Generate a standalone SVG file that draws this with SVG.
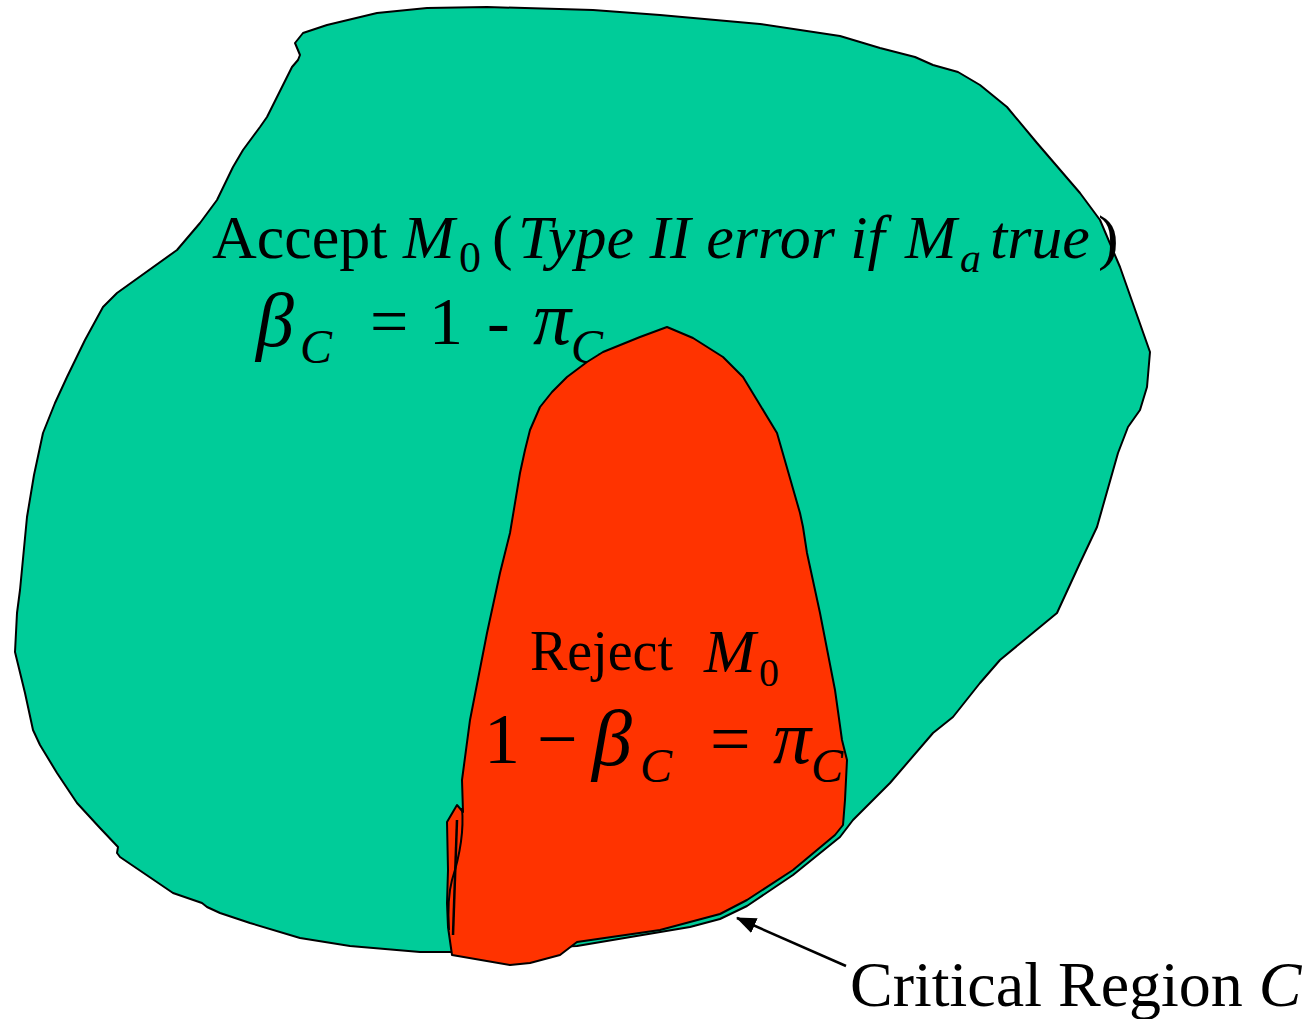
<svg xmlns="http://www.w3.org/2000/svg" width="1310" height="1019" viewBox="0 0 1310 1019">
<style>
.t{font-family:"Liberation Serif","Times New Roman",serif;fill:#000}
.i{font-style:italic}
.shape{stroke:#000;stroke-width:2;stroke-linejoin:round}
</style>
<defs>
<marker id="ah" viewBox="0 0 20 16" refX="19" refY="8" markerWidth="20" markerHeight="16" markerUnits="userSpaceOnUse" orient="auto">
<path d="M0,0 L20,8 L0,16 Z" fill="#000"/>
</marker>
</defs>
<rect width="1310" height="1019" fill="#fff"/>
<g id="accept-region">
<path class="shape" fill="#00CC99" d="M295,43 L303,33 L327,25 L377,13 L427,8 L487,7 L593,10 L660,15 L760,24 L840,36 L880,48 L915,57 L933,65 L958,72 L980,85 L1007,107 L1037,143 L1080,193 L1100,220 L1120,267 L1150,352 L1147,387 L1140,410 L1128,427 L1118,453 L1097,527 L1080,563 L1057,613 L1040,627 L1000,660 L980,683 L953,717 L933,733 L890,783 L853,820 L840,837 L793,875 L747,906 L720,919 L690,927 L577,946 L452,952 L420,952 L350,946 L300,938 L250,923 L220,913 L207,907 L202,903 L173,893 L120,857 L117,853 L118,847 L100,828 L77,803 L57,773 L40,745 L33,730 L25,693 L15,652 L17,613 L20,590 L27,517 L34,475 L43,433 L55,403 L67,377 L85,340 L103,307 L117,293 L177,250 L200,223 L217,200 L233,167 L243,150 L260,127 L267,117 L292,67 L298,60 L300,55 Z"/>
<text class="t" font-size="62" x="212" y="258">Accept</text>
<text class="t i" font-size="62" x="403" y="258">M</text>
<text class="t" font-size="44" x="459" y="272">0</text>
<text class="t" font-size="62" x="492" y="258">(</text>
<text class="t i" font-size="62" x="518" y="258">Type II error if</text>
<text class="t i" font-size="62" x="905" y="258">M</text>
<text class="t i" font-size="42" x="960" y="272">a</text>
<text class="t i" font-size="62" x="990" y="258">true</text>
<text class="t" font-size="62" x="1098" y="258">)</text>
<text class="t i" font-size="76" x="256" y="346">β</text>
<text class="t i" font-size="48" x="300" y="363">C</text>
<text class="t" font-size="68" x="370" y="344">=</text>
<text class="t" font-size="68" x="429" y="344">1</text>
<text class="t" font-size="68" x="487" y="344">-</text>
<text class="t i" font-size="76" x="533" y="344">π</text>
<text class="t i" font-size="48" x="571" y="363">C</text>
</g>
<g id="reject-region">
<path class="shape" fill="#FF3300" d="M667,327 L693,338 L723,357 L743,377 L760,405 L777,433 L800,513 L803,527 L807,553 L820,613 L835,690 L842,740 L847,760 L845,800 L843,825 L835,835 L793,870 L747,900 L720,914 L690,922 L660,930 L577,942 L560,955 L530,963 L510,965 L452,955 L448,927 L447,903 L448,870 L447,822 L457,805 L463,812 L462,780 L470,720 L487,633 L500,573 L510,533 L520,473 L525,450 L530,430 L540,407 L552,392 L567,377 L587,362 L603,352 L640,337 Z"/>
<path fill="none" stroke="#000" stroke-width="2" d="M462,808 C464,830 460,855 452,880 C448,895 448,915 449,930"/>
<path fill="none" stroke="#000" stroke-width="2.5" d="M457,820 L453,935"/>
<text class="t" font-size="56" x="530" y="670">Reject</text>
<text class="t i" font-size="62" x="704" y="672">M</text>
<text class="t" font-size="40" x="759" y="686">0</text>
<text class="t" font-size="72" x="484" y="763">1</text>
<text class="t" font-size="72" x="537" y="763">−</text>
<text class="t i" font-size="80" x="592" y="765">β</text>
<text class="t i" font-size="48" x="640" y="782">C</text>
<text class="t" font-size="72" x="710" y="763">=</text>
<text class="t i" font-size="76" x="773" y="763">π</text>
<text class="t i" font-size="48" x="811" y="782">C</text>
</g>
<g id="label-critical-region">
<text class="t" font-size="64" x="850" y="1006">Critical Region <tspan class="i">C</tspan></text>
</g>
<g id="connectors">
<line x1="846" y1="966" x2="737" y2="918" stroke="#000" stroke-width="2.5" marker-end="url(#ah)"/>
</g>
</svg>
